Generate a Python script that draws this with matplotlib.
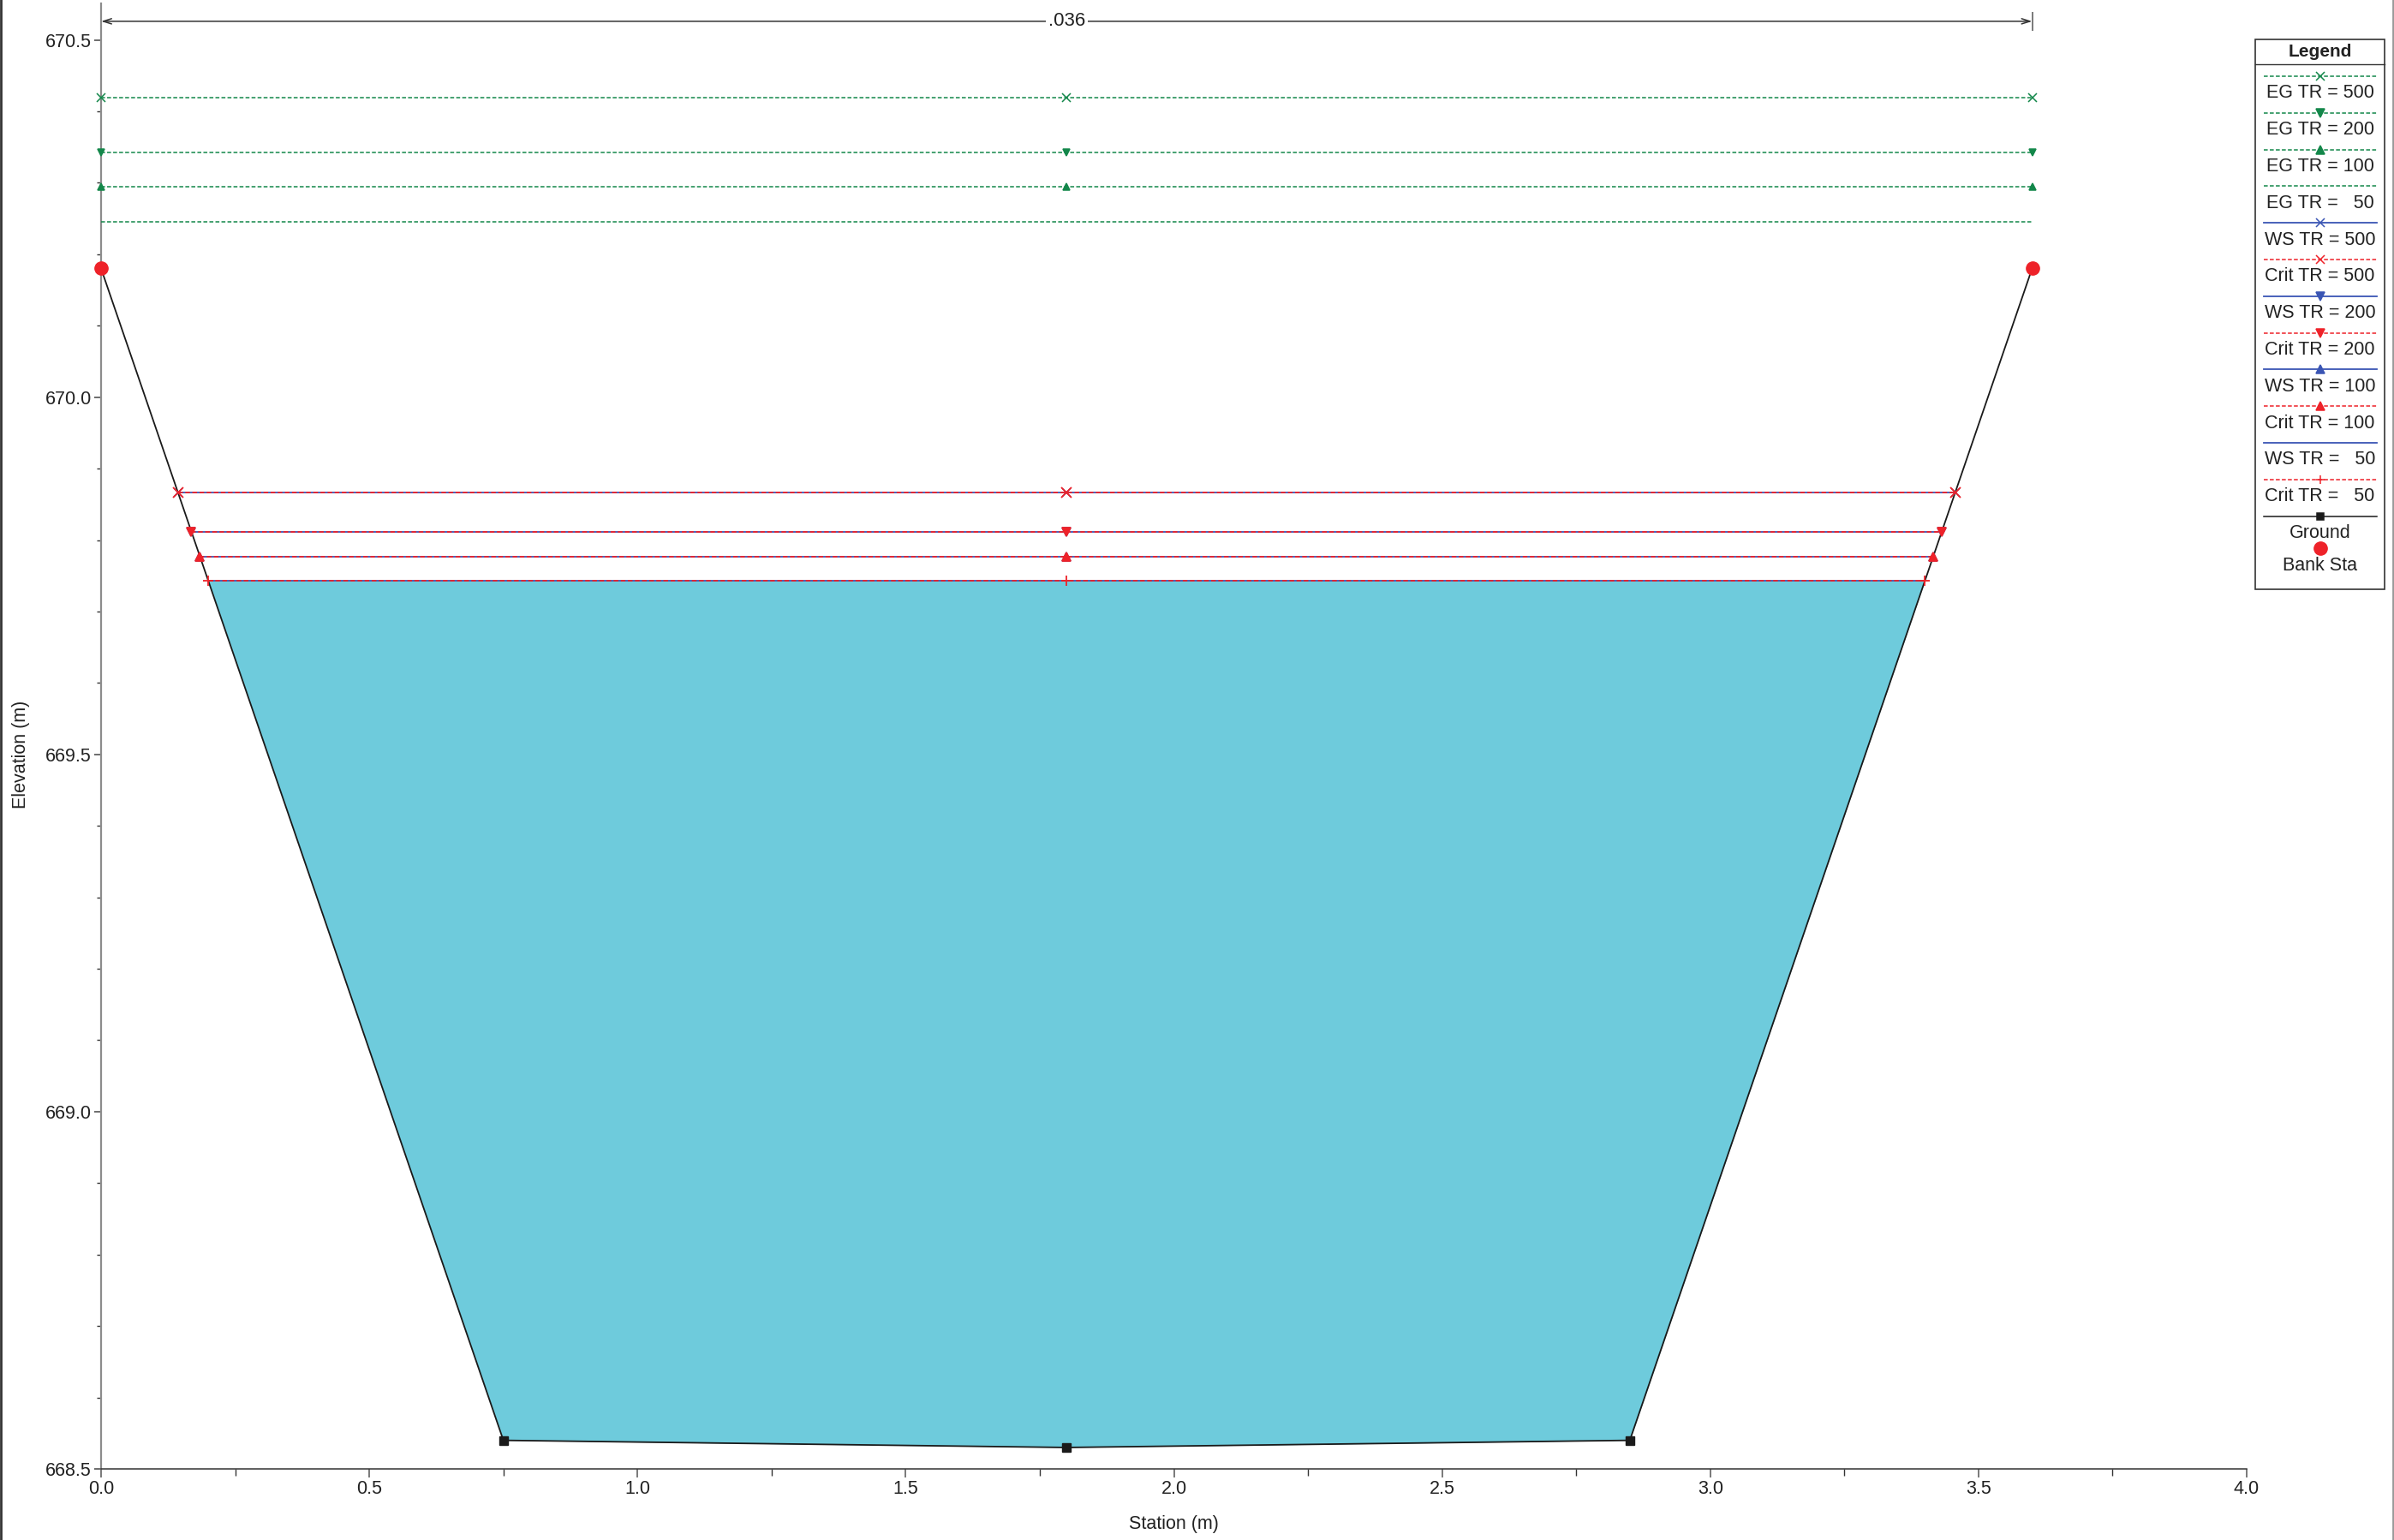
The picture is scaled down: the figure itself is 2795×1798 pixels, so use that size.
import numpy as np
import matplotlib
matplotlib.use("Agg")
import matplotlib.pyplot as plt
from matplotlib.lines import Line2D
from matplotlib.patches import Rectangle

plt.rcParams['font.family'] = ['Liberation Sans', 'DejaVu Sans']

# ground / bank data
ground_sta = [0.0, 0.75, 1.8, 2.85, 3.6]
ground_elev = [670.18, 668.54, 668.53, 668.54, 670.18]
bank_sta = [0.0, 3.6]
bank_elev = [670.18, 670.18]

# profiles (TR = 500, 200, 100, 50)
profiles = ['500', '200', '100', '50']
eg_elev = [670.419, 670.342, 670.295, 670.245]
ws_elev = [669.867, 669.811, 669.777, 669.743]
crit_elev = [669.867, 669.811, 669.777, 669.743]
ws_left = [0.143, 0.168, 0.184, 0.200]
ws_right = [3.457, 3.432, 3.416, 3.400]
mid_sta = 1.8

# manning's n
n_sta = [0.0, 3.6]
n_value = '.036'

GREEN = '#13874a'
BLUE = '#3a55b4'
RED = '#ee2229'
FILL = '#6ecbdc'
markers = ['x', 'v', '^', None]
crit_markers = ['x', 'v', '^', '+']
dash = (0, (3, 1.6))

W, H, DPI = 2795, 1798, 100
ax_l, ax_r, ax_t, ax_b = 118.0, 2623.0, 4.0, 1715.0
fig = plt.figure(figsize=(W / DPI, H / DPI), dpi=DPI)
ax = fig.add_axes([ax_l / W, 1 - ax_b / H, (ax_r - ax_l) / W, (ax_b - ax_t) / H])

# water fill for lowest WS
xs = [ws_left[3]] + [s for s in ground_sta if ws_left[3] < s < ws_right[3]] + [ws_right[3]]
ys = np.interp(xs, ground_sta, ground_elev)
ax.fill_between(xs, ys, ws_elev[3], color=FILL, lw=0, zorder=1)

# ground
ax.plot(ground_sta, ground_elev, color='#1a1a1a', lw=1.3, zorder=3)
ax.plot(ground_sta[1:-1], ground_elev[1:-1], ls='none', marker='s', ms=6.5,
        color='#1a1a1a', zorder=6)

# EG lines
for i, e in enumerate(eg_elev):
    ax.plot([bank_sta[0], mid_sta, bank_sta[1]], [e] * 3, color=GREEN, ls=dash, lw=1.1,
            marker=markers[i], ms=6 if markers[i] != 'x' else 6.5, mew=1.1,
            zorder=4, clip_on=False)

# WS lines and crit lines
for i in range(4):
    xx = [ws_left[i], mid_sta, ws_right[i]]
    ax.plot(xx, [ws_elev[i]] * 3, color=BLUE, lw=1.3, marker=markers[i], ms=7,
            mew=1.1, zorder=4)
    ax.plot(xx, [crit_elev[i]] * 3, color=RED, ls=dash, lw=1.3,
            marker=crit_markers[i], ms=7 if crit_markers[i] in ('v', '^') else 8,
            mew=1.3, zorder=5)

# bank stations
ax.plot(bank_sta, bank_elev, ls='none', marker='o', ms=11, color=RED, mec=RED,
        zorder=7, clip_on=False)

# manning's n annotation
n_y = 670.526
ax.annotate('', xy=(n_sta[0], n_y), xytext=(n_sta[1], n_y),
            arrowprops=dict(arrowstyle='<->,head_length=0.7,head_width=0.22',
                            color='#333333', lw=1.1, shrinkA=0, shrinkB=0))
ax.vlines(n_sta, n_y - 0.013, n_y + 0.013, color='#555555', lw=1.1)
ax.text(np.mean(n_sta), n_y, n_value, ha='center', va='center', fontsize=16,
        color='#222222', bbox=dict(fc='white', ec='none', pad=2), zorder=8)

# axes
ax.set_xlim(0, 4.0)
ax.set_ylim(668.5, 670.551)
ax.set_xticks(np.arange(0, 4.01, 0.5))
ax.set_xticks(np.arange(0, 4.01, 0.25), minor=True)
ax.set_yticks(np.arange(668.5, 670.51, 0.5))
ax.set_yticks(np.arange(668.5, 670.51, 0.1), minor=True)
ax.xaxis.set_major_formatter(matplotlib.ticker.FormatStrFormatter('%.1f'))
ax.yaxis.set_major_formatter(matplotlib.ticker.FormatStrFormatter('%.1f'))
ax.spines['top'].set_visible(False)
ax.spines['right'].set_visible(False)
ax.spines['left'].set_color('#8c8c8c')
ax.spines['left'].set_linewidth(1.6)
ax.spines['bottom'].set_color('#333333')
ax.spines['bottom'].set_linewidth(1.1)
ax.tick_params(axis='both', which='major', labelsize=15.5, labelcolor='#222222')
ax.tick_params(axis='x', which='major', length=7, width=1.1, color='#555555', pad=2)
ax.tick_params(axis='x', which='minor', length=5.5, width=1.0, color='#333333')
ax.tick_params(axis='y', which='major', length=6, width=1.1, color='#444444', pad=2)
ax.tick_params(axis='y', which='minor', length=3.5, width=1.0, color='#333333')

ax_w, ax_h = ax_r - ax_l, ax_b - ax_t
ax.set_xlabel('Station (m)', fontsize=15.5, color='#222222', va='center')
ax.xaxis.set_label_coords(0.5, -64 / ax_h)
ax.set_ylabel('Elevation (m)', fontsize=15.5, color='#222222', va='center')
ax.yaxis.set_label_coords(-94 / ax_w, 0.4876)

# figure border lines
fig.add_artist(Line2D([1 / W, 1 / W], [0, 1], transform=fig.transFigure,
                      color='#333333', lw=2))
fig.add_artist(Line2D([1 - 1.5 / W, 1 - 1.5 / W], [0, 1], transform=fig.transFigure,
                      color='#999999', lw=2))

# custom legend (sample line above label)
lax = fig.add_axes([0, 0, 1, 1])
lax.set_xlim(0, W)
lax.set_ylim(H, 0)
lax.axis('off')
lax.patch.set_alpha(0)
lx0, lx1, ly0, ly1 = 2633, 2784, 46, 688
lax.add_patch(Rectangle((lx0, ly0), lx1 - lx0, ly1 - ly0, fc='white', ec='#333333', lw=1.2))
lax.plot([lx0, lx1], [75, 75], color='#333333', lw=1.0)
cx = (lx0 + lx1) / 2
lax.text(cx, 60, 'Legend', ha='center', va='center', fontsize=15, fontweight='bold',
         color='#222222')

entries = []
for i, p in enumerate(profiles):
    entries.append(('EG TR = ' + p.rjust(3).replace(' ', '  '), GREEN, dash, markers[i], 1.1))
for i, p in enumerate(profiles):
    entries.append(('WS TR = ' + p.rjust(3).replace(' ', '  '), BLUE, '-', markers[i], 1.3))
    entries.append(('Crit TR = ' + p.rjust(3).replace(' ', '  '), RED, dash, crit_markers[i], 1.1))
entries.append(('Ground', '#1a1a1a', '-', 's', 1.1))

step = 42.8
for k, (lab, col, ls, mk, lw) in enumerate(entries):
    yl = 89 + k * step
    lax.plot([2643, 2775], [yl, yl], color=col, ls=ls, lw=lw)
    if mk is not None:
        lax.plot([cx], [yl], marker=mk, color=col, ms=6.5 if mk != 's' else 6, mew=1.1)
    lax.text(cx, yl + 20, lab, ha='center', va='center', fontsize=15.5, color='#222222')
yb = 89 + len(entries) * step - 5
lax.plot([cx], [yb], marker='o', color=RED, ms=11)
lax.text(cx, yb + 20, 'Bank Sta', ha='center', va='center', fontsize=15.5, color='#222222')

fig.savefig('out.png', dpi=DPI)
